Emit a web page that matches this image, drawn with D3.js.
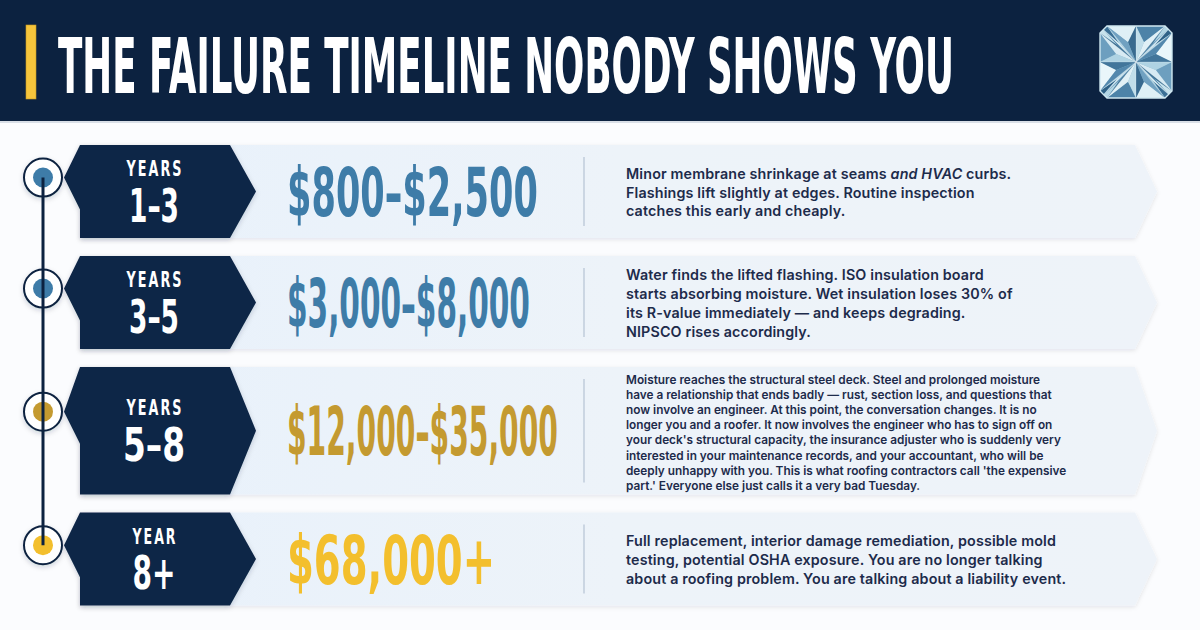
<!DOCTYPE html>
<html>
<head>
<meta charset="utf-8">
<script src="https://cdn.jsdelivr.net/npm/d3@7"></script>
<style>
  html, body { margin: 0; padding: 0; background: #fbfcfe; }
  svg { display: block; }
</style>
</head>
<body>
<svg id="chart" width="1200" height="630"></svg>
<script>
// ---------------- DATA ----------------
const title = "THE FAILURE TIMELINE NOBODY SHOWS YOU";
const periodLabels = ["YEARS", "YEARS", "YEARS", "YEAR"];
const periodRanges = ["1–3", "3–5", "5–8", "8+"];
const costRanges = ["$800–$2,500", "$3,000–$8,000", "$12,000–$35,000", "$68,000+"];
const severity = ["early", "early", "serious", "critical"];
const descriptions = [
  ["Minor membrane shrinkage at seams *and HVAC* curbs.",
   "Flashings lift slightly at edges. Routine inspection",
   "catches this early and cheaply."],
  ["Water finds the lifted flashing. ISO insulation board",
   "starts absorbing moisture. Wet insulation loses 30% of",
   "its R-value immediately — and keeps degrading.",
   "NIPSCO rises accordingly."],
  ["Moisture reaches the structural steel deck. Steel and prolonged moisture",
   "have a relationship that ends badly — rust, section loss, and questions that",
   "now involve an engineer. At this point, the conversation changes. It is no",
   "longer you and a roofer. It now involves the engineer who has to sign off on",
   "your deck's structural capacity, the insurance adjuster who is suddenly very",
   "interested in your maintenance records, and your accountant, who will be",
   "deeply unhappy with you. This is what roofing contractors call 'the expensive",
   "part.' Everyone else just calls it a very bad Tuesday."],
  ["Full replacement, interior damage remediation, possible mold",
   "testing, potential OSHA exposure. You are no longer talking",
   "about a roofing problem. You are talking about a liability event."]
];

// ---------------- STYLE / LAYOUT ----------------
const W = 1200, H = 630;
const NAVY = "#0c2240";
const BANNER = "#0f2646";
const colorScale = d3.scaleOrdinal()
  .domain(["early", "serious", "critical"])
  .range(["#3e7ca8", "#c49a30", "#f3bf2d"]);
const condensed = "'Liberation Sans Narrow', 'DejaVu Sans Condensed', 'Arial Narrow', sans-serif";
const bodyFont = "'Inter', 'Open Sans', 'Noto Sans', sans-serif";
// rendered widths of the condensed display texts (layout only)
const costFit = [251, 243, 271, 208];
const rangeFit = [50, 50, 62, 43];
const labelFit = [57, 57, 57, 45];

const svg = d3.select("#chart");
const defs = svg.append("defs");

const shadow = defs.append("filter").attr("id", "shadow")
  .attr("x", "-20%").attr("y", "-20%").attr("width", "140%").attr("height", "150%");
shadow.append("feDropShadow").attr("dx", 0).attr("dy", 2).attr("stdDeviation", 2.5)
  .attr("flood-color", "#0c2240").attr("flood-opacity", 0.18);

const soft = defs.append("filter").attr("id", "soft")
  .attr("x", "-5%").attr("y", "-10%").attr("width", "110%").attr("height", "130%");
soft.append("feDropShadow").attr("dx", 0).attr("dy", 1.5).attr("stdDeviation", 2)
  .attr("flood-color", "#0c2240").attr("flood-opacity", 0.10);

const panelGrad = defs.append("linearGradient").attr("id", "panelGrad")
  .attr("x1", "0").attr("x2", "1").attr("y1", "0").attr("y2", "0");
panelGrad.append("stop").attr("offset", "0").attr("stop-color", "#e8f1fb");
panelGrad.append("stop").attr("offset", "0.5").attr("stop-color", "#edf3f9");
panelGrad.append("stop").attr("offset", "1").attr("stop-color", "#eef3f9");

// background
svg.append("rect").attr("width", W).attr("height", H).attr("fill", "#fbfcfe");

// condensed text: squeeze horizontally with a transform so boxes stay true
function squeeze(sel, widthFor, anchor) {
  sel.each(function (d, i) {
    const t = d3.select(this);
    const x0 = +t.attr("x"), y0 = +t.attr("y");
    const w = this.getComputedTextLength();
    const k = w > 0 ? widthFor(d, i) / w : 1;
    t.attr("x", 0).attr("y", 0)
      .attr("text-anchor", anchor || "start")
      .attr("transform", `translate(${x0},${y0}) scale(${k},1)`);
  });
}

// ---------------- HEADER ----------------
svg.append("rect").attr("x", 0).attr("y", 0).attr("width", W).attr("height", 121)
  .attr("fill", NAVY);
svg.append("rect").attr("x", 0).attr("y", 121).attr("width", W).attr("height", 2)
  .attr("fill", "#d9dfe7");
svg.append("rect").attr("x", 26).attr("y", 25).attr("width", 10).attr("height", 74)
  .attr("fill", "#f6c53c").attr("stroke", "#c99a1f").attr("stroke-width", 0.6);

const titleSel = svg.append("text")
  .attr("x", 58).attr("y", 93)
  .attr("font-family", condensed).attr("font-weight", 700)
  .attr("font-size", 77).attr("fill", "#ffffff")
  .text(title);
squeeze(titleSel, () => 896);

// diamond icon
(function drawDiamond() {
  const cx = 1136, cy = 62, s = 36, c = 7;
  const g = svg.append("g");
  const outline = [
    [cx - s + c, cy - s], [cx + s - c, cy - s], [cx + s, cy - s + c], [cx + s, cy + s - c],
    [cx + s - c, cy + s], [cx - s + c, cy + s], [cx - s, cy + s - c], [cx - s, cy - s + c]
  ];
  const pts = p => p.map(d => d.join(",")).join(" ");
  g.append("polygon").attr("points", pts(outline)).attr("fill", "#8fb9cf");
  const per = [];
  for (let i = 0; i < outline.length; i++) {
    const a = outline[i], b = outline[(i + 1) % outline.length];
    per.push(a, [(a[0] + b[0]) / 2, (a[1] + b[1]) / 2]);
  }
  const facetColors = ["#dff0f6", "#4d83a8", "#b3d6e4", "#2f6287", "#e9f6fa", "#6d9fbf", "#c7e2ec", "#3a6f95"];
  per.forEach((p, i) => {
    const q = per[(i + 1) % per.length];
    const m = [(p[0] + q[0]) / 2 * 0.55 + cx * 0.45, (p[1] + q[1]) / 2 * 0.55 + cy * 0.45];
    g.append("polygon").attr("points", pts([p, q, m]))
      .attr("fill", facetColors[i % facetColors.length]);
    g.append("polygon").attr("points", pts([[cx, cy], m, q]))
      .attr("fill", facetColors[(i + 3) % facetColors.length]).attr("opacity", 0.9);
    g.append("polygon").attr("points", pts([[cx, cy], p, m]))
      .attr("fill", facetColors[(i + 5) % facetColors.length]).attr("opacity", 0.9);
  });
  g.selectAll("line.f").data(per).join("line")
    .attr("x1", cx).attr("y1", cy).attr("x2", d => d[0]).attr("y2", d => d[1])
    .attr("stroke", "#ffffff").attr("stroke-opacity", 0.35).attr("stroke-width", 0.6);
  g.append("polygon").attr("points", pts(outline))
    .attr("fill", "none").attr("stroke", "#cfe7f0").attr("stroke-width", 1.4);
})();

// ---------------- ROWS ----------------
const rows = descriptions.map((lines, i) => ({
  i,
  label: periodLabels[i],
  range: periodRanges[i],
  cost: costRanges[i],
  sev: severity[i],
  lines,
  dense: lines.length > 5
}));
const firstTop = 145, gap = 18;
let yCursor = firstTop;
rows.forEach(r => {
  r.h = Math.max(93, r.lines.length * 15.2 + 6);
  r.top = yCursor;
  r.bottom = yCursor + r.h;
  r.mid = yCursor + r.h / 2;
  r.cy = yCursor + r.h * 0.35;
  yCursor = r.bottom + gap;
});

const x = d3.scaleLinear().domain([0, 1]).range([80, 1135]);
const timelineX = 43;
const bannerRight = 230, bannerTip = 256;

const rowG = svg.selectAll("g.row").data(rows).join("g").attr("class", "row");

// panels
rowG.append("polygon")
  .attr("points", d => [[x(0), d.top], [x(1), d.top], [x(1) + 22, d.mid], [x(1), d.bottom], [x(0), d.bottom]]
    .map(p => p.join(",")).join(" "))
  .attr("fill", "url(#panelGrad)")
  .attr("filter", "url(#soft)");

// timeline line
svg.append("line")
  .attr("x1", timelineX).attr("x2", timelineX)
  .attr("y1", rows[0].cy).attr("y2", rows[rows.length - 1].cy)
  .attr("stroke", NAVY).attr("stroke-width", 3);

// banners
rowG.append("polygon")
  .attr("points", d => [[80, d.top], [64, d.cy], [80, d.cy + 32], [80, d.bottom], [bannerRight, d.bottom],
    [bannerTip, d.mid], [bannerRight, d.top]].map(p => p.join(",")).join(" "))
  .attr("fill", BANNER)
  .attr("filter", "url(#shadow)");

// circles
rowG.append("circle")
  .attr("cx", timelineX).attr("cy", d => d.cy).attr("r", 19)
  .attr("fill", "#ffffff").attr("stroke", NAVY).attr("stroke-width", 2)
  .attr("filter", "url(#shadow)");
rowG.append("circle")
  .attr("cx", timelineX).attr("cy", d => d.cy).attr("r", 10)
  .attr("fill", d => colorScale(d.sev));

// banner texts: one text element, two stacked lines
const bannerText = rowG.append("text")
  .attr("text-anchor", "middle")
  .attr("font-family", condensed).attr("font-weight", 700)
  .attr("fill", "#ffffff");
bannerText.append("tspan")
  .attr("x", 155).attr("y", d => d.mid - 15.5)
  .attr("font-size", 21).attr("letter-spacing", 3)
  .attr("textLength", d => labelFit[d.i]).attr("lengthAdjust", "spacingAndGlyphs")
  .text(d => d.label);
bannerText.append("tspan")
  .attr("x", 154).attr("y", d => d.mid + 30)
  .attr("font-size", 47)
  .attr("textLength", d => rangeFit[d.i]).attr("lengthAdjust", "spacingAndGlyphs")
  .text(d => d.range);

// cost
const costSel = rowG.append("text")
  .attr("x", 287).attr("y", d => d.mid + 24.5)
  .attr("font-family", condensed).attr("font-weight", 700)
  .attr("font-size", 67)
  .attr("fill", d => colorScale(d.sev))
  .text(d => d.cost);
squeeze(costSel, (d, i) => costFit[i]);

// separator
rowG.append("line")
  .attr("x1", 584).attr("x2", 584)
  .attr("y1", d => d.top + 12).attr("y2", d => d.bottom - 12)
  .attr("stroke", "#b5c3d3").attr("stroke-width", 1.2);

// descriptions, one text per line
rowG.each(function (d) {
  const g = d3.select(this);
  const lh = d.dense ? 15.15 : 18.7;
  const fs = d.dense ? 11.8 : 14.3;
  const ls = d.dense ? 0 : 0.15;
  const n = d.lines.length;
  const firstBase = d.mid + 6 - (n - 1) * lh / 2;
  g.selectAll("text.desc").data(d.lines).join("text")
    .attr("class", "desc")
    .attr("x", 626).attr("y", (l, li) => firstBase + li * lh)
    .attr("font-family", bodyFont).attr("font-weight", 600)
    .attr("font-size", fs).attr("letter-spacing", ls).attr("fill", "#1d2b4b")
    .each(function (line) {
      const t = d3.select(this);
      line.split("*").forEach((p, pi) => {
        if (!p) return;
        t.append("tspan").attr("font-style", pi % 2 ? "italic" : "normal").text(p);
      });
    });
});
</script>
</body>
</html>
